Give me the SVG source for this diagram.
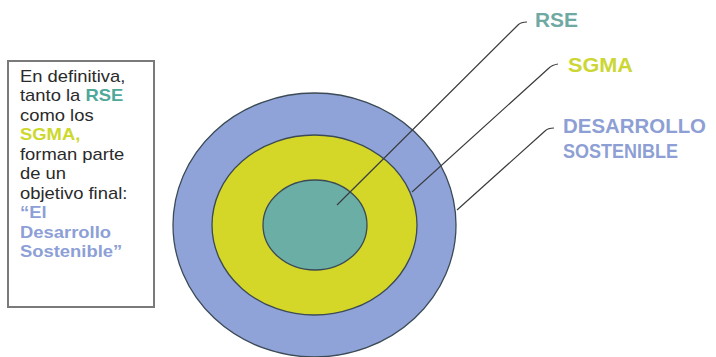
<svg xmlns="http://www.w3.org/2000/svg" width="716" height="357" viewBox="0 0 716 357">
<style>
.ring{stroke:#3b4a55;stroke-width:1.3}
.lead{fill:none;stroke:#3a3d40;stroke-width:1.2}
.lbl{font-family:"Liberation Sans",Arial,sans-serif;font-weight:bold;font-size:19.5px}
.body{font-family:"Liberation Sans",Arial,sans-serif;font-size:16px;fill:#2a2a2a}
.b{font-weight:bold}
.teal{fill:#4fa89a}
.yel{fill:#cdd82c}
.blue{fill:#8d9fd6}
</style>
<rect width="716" height="357" fill="#ffffff"/>
<g id="textbox">
<rect x="8" y="61" width="146" height="246" fill="#ffffff" stroke="#7a7a7a" stroke-width="2"/>
<g transform="translate(20,0) scale(1.15,1)" class="body">
<text x="0" y="82">En definitiva,</text>
<text x="0" y="101.5">tanto la <tspan class="b teal">RSE</tspan></text>
<text x="0" y="121">como los</text>
<text x="0" y="140.5" class="b yel">SGMA,</text>
<text x="0" y="160">forman parte</text>
<text x="0" y="179.5">de un</text>
<text x="0" y="199">objetivo final:</text>
<text x="0" y="218.5" class="b blue">“El</text>
<text x="0" y="238" class="b blue">Desarrollo</text>
<text x="0" y="257.5" class="b blue">Sostenible”</text>
</g>
</g>
<g id="desarrollo-ring"><ellipse class="ring" cx="314.5" cy="225" rx="141.5" ry="132" fill="#8fa3d8"/></g>
<g id="sgma-ring"><ellipse class="ring" cx="314.5" cy="225" rx="102.5" ry="90" fill="#d4d628"/></g>
<g id="rse-core"><ellipse class="ring" cx="315" cy="225" rx="52" ry="45" fill="#6aaea6"/></g>
<g id="connectors">
<path class="lead" d="M337,205 L518,25 Q521,22 527,22"/>
<path class="lead" d="M412,192 L549,68 Q552,65 558,64"/>
<path class="lead" d="M457,210 L545,131 Q548,128 554,128"/>
</g>
<g id="label-rse"><text class="lbl" x="535" y="27" textLength="43" lengthAdjust="spacingAndGlyphs" fill="#6fa9a3">RSE</text></g>
<g id="label-sgma"><text class="lbl" x="568" y="72" textLength="65" lengthAdjust="spacingAndGlyphs" fill="#ccd735">SGMA</text></g>
<g id="label-ds">
<text class="lbl" x="563" y="133" textLength="143" lengthAdjust="spacingAndGlyphs" fill="#8d9fd4">DESARROLLO</text>
<text class="lbl" x="563" y="158" textLength="115" lengthAdjust="spacingAndGlyphs" fill="#8d9fd4">SOSTENIBLE</text>
</g>
</svg>
